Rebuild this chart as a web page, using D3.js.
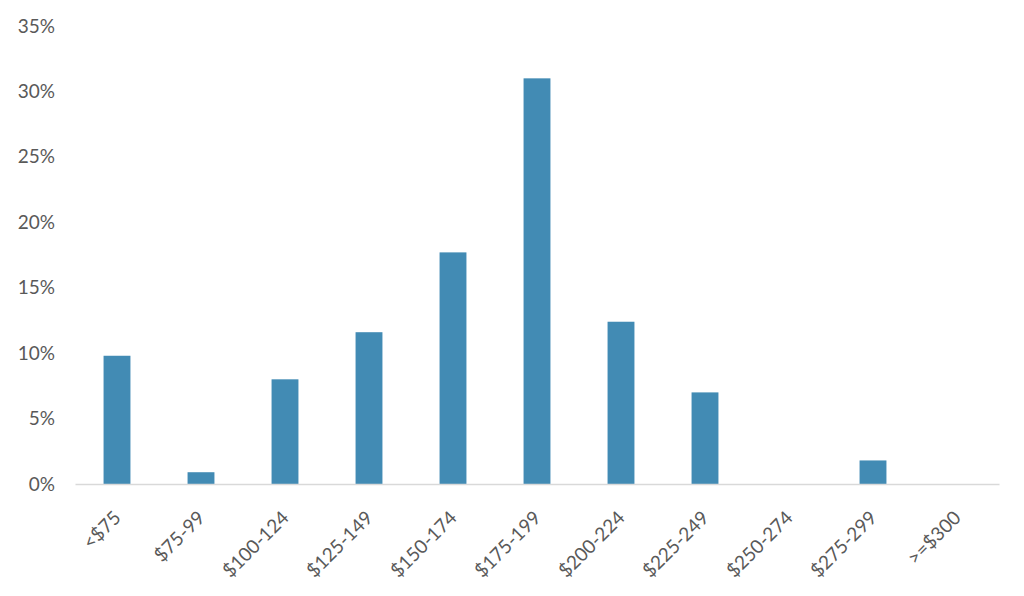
<!DOCTYPE html>
<html>
<head>
<meta charset="utf-8">
<script src="https://cdn.jsdelivr.net/npm/d3@7/dist/d3.min.js"></script>
<style>
  html, body { margin: 0; padding: 0; background: #fff; }
  svg { display: block; }
  text { font-family: Lato, "Open Sans", sans-serif; fill: #595959; }
</style>
</head>
<body>
<svg id="chart" width="1024" height="596"></svg>
<script>
const categories = ["<$75", "$75-99", "$100-124", "$125-149", "$150-174", "$175-199", "$200-224", "$225-249", "$250-274", "$275-299", ">=$300"];
const shares = [9.8, 0.9, 8.0, 11.6, 17.7, 31.0, 12.4, 7.0, 0, 1.8, 0];
const yTicks = [0, 5, 10, 15, 20, 25, 30, 35];

const svg = d3.select("#chart");
const margin = { left: 75, right: 25, top: 26, bottom: 112 };
const W = 1024, H = 596;

const x = d3.scaleBand()
  .domain(categories)
  .range([margin.left, W - margin.right])
  .paddingInner(0.68)
  .paddingOuter(0.34);

const y = d3.scaleLinear()
  .domain([0, 35])
  .range([484, 26]);

// bars
svg.append("g")
  .selectAll("rect")
  .data(categories.map((c, i) => ({ c, v: shares[i] })))
  .join("rect")
  .attr("x", d => x(d.c))
  .attr("width", x.bandwidth())
  .attr("y", d => y(d.v))
  .attr("height", d => y(0) - y(d.v))
  .attr("fill", "#428bb4");

// y axis (labels only)
const yAxis = d3.axisLeft(y)
  .tickValues(yTicks)
  .tickFormat(d => d + "%")
  .tickSize(0)
  .tickPadding(0);
const gy = svg.append("g")
  .attr("transform", "translate(55,0)")
  .call(yAxis);
gy.select(".domain").remove();
gy.selectAll("text")
  .style("font-size", "19px")
  .attr("fill", "#595959");

// x axis
const xAxis = d3.axisBottom(x).tickSize(0).tickPadding(0);
const gx = svg.append("g")
  .attr("transform", `translate(0,${y(0)})`)
  .call(xAxis);
gx.select(".domain")
  .attr("stroke", "#d9d9d9")
  .attr("stroke-width", 1.5);
gx.selectAll("text")
  .style("font-size", "19px")
  .attr("fill", "#595959")
  .attr("text-anchor", "end")
  .attr("dy", "0")
  .attr("transform", "translate(5,35) rotate(-45)");
</script>
</body>
</html>
